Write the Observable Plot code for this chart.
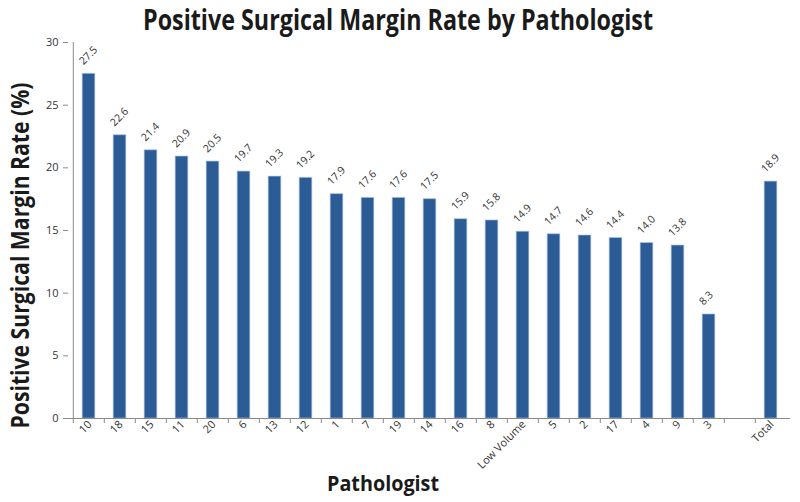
<!DOCTYPE html>
<html>
<head>
<meta charset="utf-8">
<script src="https://cdn.jsdelivr.net/npm/d3@7"></script>
<script src="https://cdn.jsdelivr.net/npm/@observablehq/plot@0.6"></script>
<style>
  body { margin: 0; background: #fff; }
  #chart { width: 800px; height: 502px; }
</style>
</head>
<body>
<div id="chart"></div>
<script>
// ---- data ----
const pathologists = ["10","18","15","11","20","6","13","12","1","7","19","14","16","8","Low Volume","5","2","17","4","9","3","Total"];
const rates = [27.5,22.6,21.4,20.9,20.5,19.7,19.3,19.2,17.9,17.6,17.6,17.5,15.9,15.8,14.9,14.7,14.6,14.4,14.0,13.8,8.3,18.9];
const gapSlot = " ";
const yTicks = [0,5,10,15,20,25,30];
const titleText = "Positive Surgical Margin Rate by Pathologist";
const yTitle = "Positive Surgical Margin Rate (%)";
const xTitle = "Pathologist";

const data = pathologists.map((p, i) => ({p, v: rates[i]}));
const xDomain = [...pathologists.slice(0, pathologists.length - 1), gapSlot, pathologists[pathologists.length - 1]];

const W = 800, H = 502, mL = 68, mR = 10, mT = 42, mB = 84;
const slot = (W - mL - mR) / xDomain.length;
const barW = 13;
const inset = (slot - barW) / 2;
const axisColor = "#8a8a8a";
const textColor = "#333";
const font = "'Open Sans', sans-serif";
const frameCx = mL + (W - mL - mR) / 2;
const frameCy = mT + (H - mT - mB) / 2;

const chart = Plot.plot({
  width: W, height: H,
  marginLeft: mL, marginRight: mR, marginTop: mT, marginBottom: mB,
  style: {fontFamily: font, background: "#fff", color: textColor},
  x: {domain: xDomain, padding: 0, axis: null},
  y: {domain: [d3.min(yTicks), d3.max(yTicks)], axis: null},
  marks: [
    Plot.barY(data, {x: "p", y: "v", fill: "#2b5c95", insetLeft: inset, insetRight: inset,
      stroke: "#aac2e2", strokeWidth: 1, strokeOpacity: 0.6}),
    // value labels
    Plot.text(data, {x: "p", y: "v", text: d => d.v.toFixed(1), rotate: -45, textAnchor: "start",
      lineAnchor: "middle", dx: -8, dy: -11, fontSize: 10.5, fill: textColor}),
    // axis lines
    Plot.ruleY([d3.min(yTicks)], {stroke: axisColor, strokeWidth: 1}),
    Plot.ruleX([xDomain[0]], {y1: d3.min(yTicks), y2: d3.max(yTicks), dx: -slot / 2, stroke: axisColor}),
    // y axis
    Plot.axisY({ticks: yTicks, tickSize: 5, tickPadding: 5, fontSize: 11, stroke: axisColor, fill: textColor, label: null}),
    // x ticks at slot boundaries
    Plot.axisX({ticks: xDomain, tickSize: 5, tickFormat: () => "", dx: -slot / 2, stroke: axisColor, label: null}),
    // x labels
    Plot.axisX({tickSize: 0, tickPadding: 4, tickRotate: -45, fontSize: 11, fill: textColor, dx: 1,
      tickFormat: d => d.trim(), label: null}),
    // titles
    Plot.text([titleText], {frameAnchor: "top", text: d => d, dx: 397.5 - frameCx, dy: -13,
      textAnchor: "middle", lineAnchor: "bottom", fontSize: 28, fontWeight: "bold", fill: "#1a1a1a"}),
    Plot.text([xTitle], {frameAnchor: "bottom", text: d => d, dx: 382.5 - frameCx, dy: 72,
      textAnchor: "middle", lineAnchor: "bottom", fontSize: 21, fontWeight: "bold", fill: "#1a1a1a"}),
    Plot.text([yTitle], {frameAnchor: "left", text: d => d, rotate: -90, dx: -40, dy: 255 - frameCy,
      textAnchor: "middle", lineAnchor: "bottom", fontSize: 25, fontWeight: "bold", fill: "#1a1a1a"})
  ]
});

document.getElementById("chart").appendChild(chart);

// fit title widths to the reference (condensed face)
const fits = new Map([[titleText, 510], [xTitle, 112], [yTitle, 346]]);
chart.querySelectorAll("text").forEach(t => {
  const len = fits.get(t.textContent);
  if (len) { t.setAttribute("textLength", len); t.setAttribute("lengthAdjust", "spacingAndGlyphs"); }
});
</script>
</body>
</html>
